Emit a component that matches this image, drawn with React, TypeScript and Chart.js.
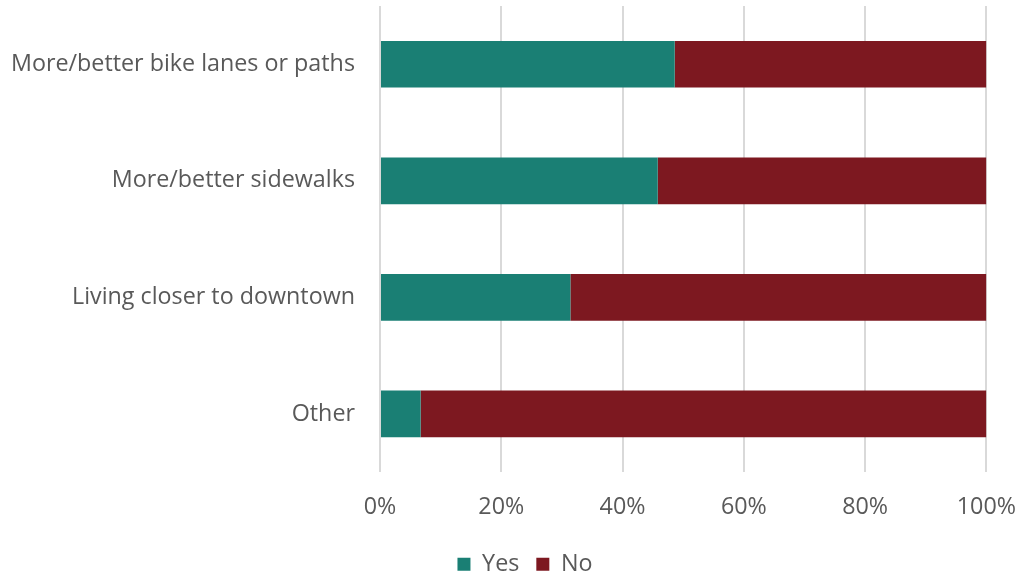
import React, { useEffect, useRef } from "react";
import { Chart, registerables } from "chart.js";

Chart.register(...registerables);

const categories = [
  "More/better bike lanes or paths",
  "More/better sidewalks",
  "Living closer to downtown",
  "Other",
];
const yesValues = [48.6, 45.8, 31.4, 6.7];
const noValues = [51.4, 54.2, 68.6, 93.3];
const xTicks = [0, 20, 40, 60, 80, 100];

const FONT = "'Open Sans', sans-serif";
const TEXT = "#595959";
const FS = 23.3;

export default function App() {
  const ref = useRef<HTMLCanvasElement | null>(null);
  useEffect(() => {
    if (!ref.current) return;
    const chart = new Chart(ref.current, {
      type: "bar",
      data: {
        labels: categories,
        datasets: [
          { label: "Yes", data: yesValues, backgroundColor: "#1A7F74", borderWidth: 0 },
          { label: "No", data: noValues, backgroundColor: "#7D1820", borderWidth: 0 },
        ],
      },
      options: {
        indexAxis: "y",
        animation: false,
        responsive: false,
        maintainAspectRatio: false,
        layout: { padding: { left: 0, right: -27, top: 6, bottom: -9 } },
        datasets: { bar: { categoryPercentage: 1, barPercentage: 0.4 } },
        scales: {
          x: {
            stacked: true,
            min: 0,
            max: 100,
            afterBuildTicks: (s: any) => {
              s.ticks = xTicks.map((v) => ({ value: v }));
            },
            ticks: {
              callback: (v: any) => v + "%",
              color: TEXT,
              font: { family: FONT, size: FS },
              padding: 7,
            },
            grid: {
              color: "#d9d9d9",
              lineWidth: 2,
              drawTicks: true,
              tickLength: 14,
              tickColor: "rgba(0,0,0,0)",
            },
            border: { display: false },
            afterFit: (s: any) => {
              s.height = 63.5;
            },
          },
          y: {
            stacked: true,
            ticks: {
              color: TEXT,
              font: { family: FONT, size: FS },
              padding: -9,
            },
            grid: {
              display: true,
              drawOnChartArea: false,
              drawTicks: true,
              tickLength: 34,
              color: "rgba(0,0,0,0)",
            },
            border: { display: false },
            afterFit: (s: any) => {
              s.width = 380;
            },
          },
        },
        plugins: {
          legend: {
            position: "bottom",
            labels: {
              color: TEXT,
              font: { family: FONT, size: FS },
              boxWidth: 13,
              boxHeight: 13,
              padding: 17,
            },
          },
          tooltip: { enabled: false },
        },
      },
    });
    return () => chart.destroy();
  }, []);
  return (
    <div style={{ position: "fixed", left: 0, top: 0, width: 1023, height: 577, background: "#fff" }}>
      <canvas ref={ref} width={1023} height={577} />
    </div>
  );
}
